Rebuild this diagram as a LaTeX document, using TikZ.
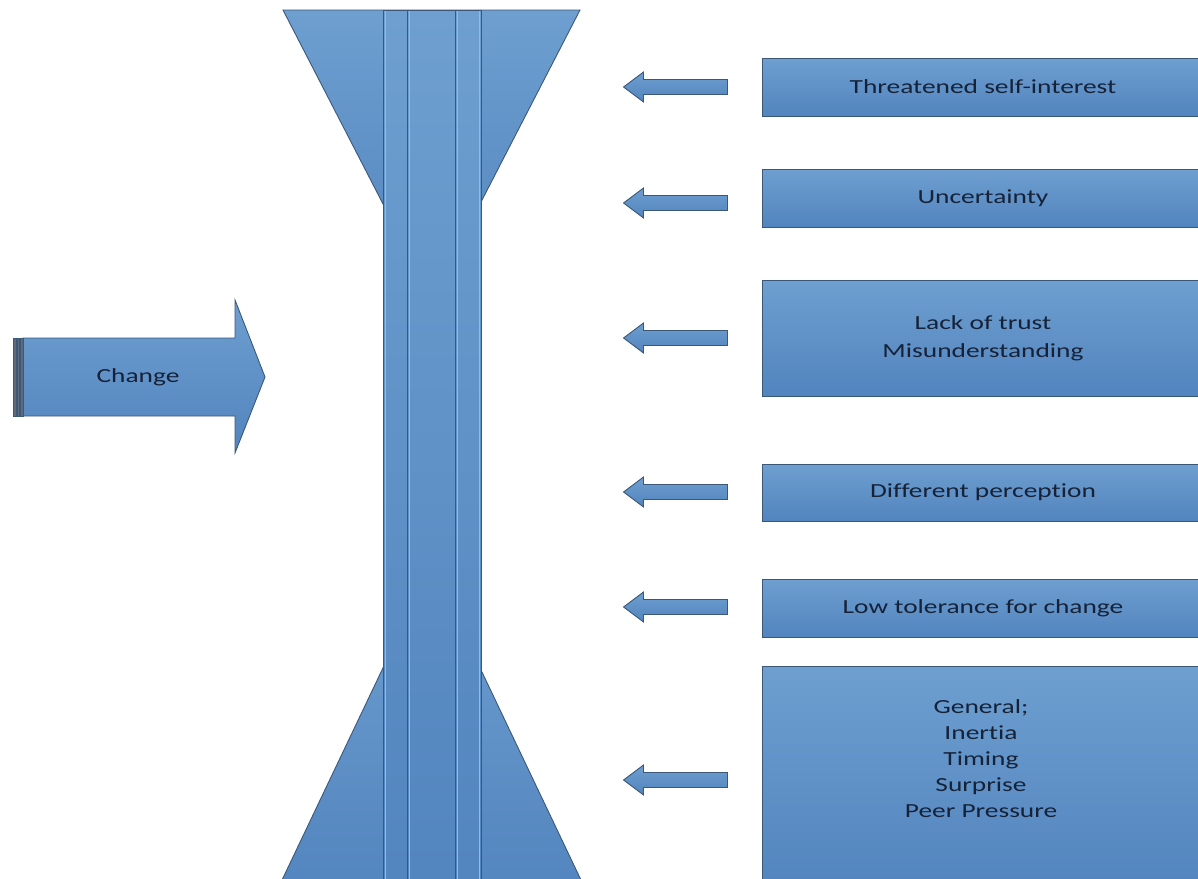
\documentclass[tikz,border=0pt]{standalone}
\usepackage{fontspec}
\setmainfont{Carlito}[FakeStretch=1.37, Ligatures={NoCommon}]
\usetikzlibrary{shapes.arrows}

\definecolor{bluetop}{RGB}{110,159,208}
\definecolor{bluebot}{RGB}{82,132,190}
\definecolor{edgeblue}{RGB}{60,88,120}
\definecolor{shine}{RGB}{150,186,222}
\definecolor{inkblue}{RGB}{22,34,56}
\definecolor{tailgrey}{RGB}{96,106,122}

\newcommand\causefont{\fontsize{20}{26}\selectfont}

\tikzset{
  blue fill/.style={draw=edgeblue, line width=0.9pt, top color=bluetop, bottom color=bluebot},
  causebox/.style={blue fill, rectangle, minimum width=442pt, inner sep=0pt,
    text=inkblue, font=\causefont, align=center},
  label text/.style={text=inkblue, font=\causefont, align=center, inner sep=0pt},
  pusharrow/.style={blue fill, single arrow, shape border rotate=180,
    minimum height=104pt, minimum width=30pt, single arrow head extend=7.5pt,
    single arrow tip angle=73.74, inner sep=7pt},
  shine line/.style={draw=shine, line width=0.8pt},
}

\begin{document}
\begin{tikzpicture}[x=1pt,y=-1pt]
  \useasboundingbox (0,0) rectangle (1198,878);
  \fill[white] (0,0) rectangle (1198,878);

  % funnel mouths behind the column
  \path[blue fill] (283,10) -- (580,10) -- (431.5,298) -- cycle;
  \path[blue fill] (431.5,566) -- (590.5,900) -- (272.5,900) -- cycle;

  % central column made of three bars
  \path[blue fill] (383,10) rectangle (407,900);
  \path[blue fill] (407,10) rectangle (455,900);
  \path[blue fill] (455,10) rectangle (481,900);
  \foreach \lx in {385,409.2,457.2,479} {
    \draw[shine line] (\lx,11) -- (\lx,900);
  }

  % the change arrow with striped tail
  \path[blue fill] (23,338) -- (235,338) -- (235,300) -- (265,377)
    -- (235,453) -- (235,416) -- (23,416) -- cycle;
  \foreach \a/\b in {13/15.8, 16.8/19.6, 20.6/23} {
    \path[fill=tailgrey, draw=edgeblue, line width=0.6pt] (\a,338) rectangle (\b,416);
  }
  \node[label text] (change) at (138,377) {Change};

  % causes of resistance
  \node[causebox, minimum height=58pt]  (c1) at (983,87)  {Threatened self-interest};
  \node[causebox, minimum height=58pt]  (c2) at (983,198) {Uncertainty};
  \node[causebox, minimum height=116pt, font=\fontsize{20}{28}\selectfont]
    (c3) at (983,338) {Lack of trust\\Misunderstanding};
  \node[causebox, minimum height=57pt]  (c4) at (983,492.5) {Different perception};
  \node[causebox, minimum height=58pt]  (c5) at (983,608) {Low tolerance for change};
  \node[causebox, minimum height=224pt] (c6) at (983,778) {};
  \node[label text] (c6t) at (981,758.5)
    {General;\\Inertia\\Timing\\Surprise\\Peer Pressure};

  % pushing arrows towards the column
  \node[pusharrow] (a1) at (680.5,87)  {};
  \node[pusharrow] (a2) at (680.5,203) {};
  \node[pusharrow] (a3) at (680.5,338) {};
  \node[pusharrow] (a4) at (680.5,492) {};
  \node[pusharrow] (a5) at (680.5,607) {};
  \node[pusharrow] (a6) at (680.5,780) {};
\end{tikzpicture}
\end{document}
